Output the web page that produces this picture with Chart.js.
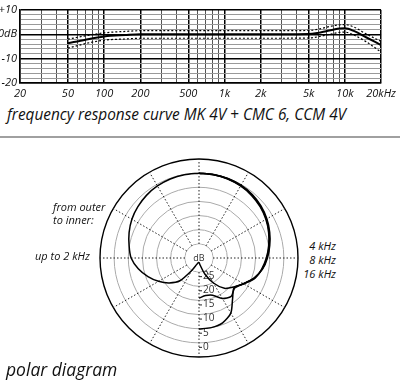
<!DOCTYPE html>
<html>
<head>
<meta charset="utf-8">
<script src="https://cdn.jsdelivr.net/npm/chart.js@4/dist/chart.umd.min.js"></script>
<style>
  body { margin: 0; width: 400px; height: 386px; position: relative; background: #fff; overflow: hidden; font-family: "Open Sans", sans-serif; color: #111; }
  canvas { position: absolute; }
  .t { position: absolute; font-style: italic; white-space: nowrap; }
  .s { font-size: 11px; line-height: 11px; }
</style>
</head>
<body>
<canvas id="freq" width="400" height="100" style="left:0;top:0"></canvas>
<div class="t" style="left:7px;top:106px;font-size:15.4px;line-height:18px">frequency response curve MK 4V + CMC 6, CCM 4V</div>
<div style="position:absolute;left:0;top:136px;width:400px;height:2px;background:#a0a0a0"></div>
<canvas id="polar" width="204" height="204" style="left:97px;top:156px"></canvas>
<div class="t s" style="left:53px;top:201px">from outer</div>
<div class="t s" style="left:53px;top:214px">to inner:</div>
<div class="t s" style="left:35px;top:250px">up to 2 kHz</div>
<div class="t s" style="right:64px;top:240px">4 kHz</div>
<div class="t s" style="right:64px;top:254px">8 kHz</div>
<div class="t s" style="right:64px;top:268px">16 kHz</div>
<div class="t" style="left:6px;top:359px;font-size:17.5px;line-height:20px">polar diagram</div>
<script>
// frequency response (Hz / dB)
const freqs = [50, 70, 100, 150, 200, 300, 500, 1000, 2000, 3000, 5000, 6000, 7000, 8000, 9000, 10000, 12000, 15000, 20000];
const mean  = [-3.7, -2.2, -0.9, -0.3, 0, 0, 0, 0, 0, 0, 0.1, 0.6, 1.3, 1.9, 2.4, 2.5, 1.3, -1.2, -4.4];
const upper = [-2.0, -0.6, 0.6, 1.2, 1.5, 1.5, 1.5, 1.5, 1.5, 1.5, 1.6, 2.1, 2.9, 3.5, 3.9, 4.0, 2.9, 0.2, -2.9];
const lower = [-5.7, -3.8, -2.4, -1.9, -1.6, -1.6, -1.6, -1.6, -1.6, -1.6, -1.5, -1.0, -0.3, 0.3, 0.8, 0.9, -0.4, -3.0, -7.3];

const freqTicks = [20, 30, 40, 50, 60, 70, 80, 90, 100, 200, 300, 400, 500, 600, 700, 800, 900,
  1000, 2000, 3000, 4000, 5000, 6000, 7000, 8000, 9000, 10000, 20000];
const freqLabels = { 20: "20", 50: "50", 100: "100", 200: "200", 500: "500", 1000: "1k",
  2000: "2k", 5000: "5k", 10000: "10k", 20000: "20kHz" };
const dbTicks = [-20, -18, -16, -14, -12, -10, -8, -6, -4, -2, 0, 2, 4, 6, 8, 10];
const dbLabels = { 10: "+10", 0: "0dB", "-10": "-10", "-20": "-20" };

// polar response, dB by angle from front (0..180 deg, 10 deg steps)
const polarAngles = [0, 10, 20, 30, 40, 50, 60, 70, 80, 90, 100, 110, 120, 130, 140, 150, 160, 170, 180];
const low2k = [0, -0.1, -0.3, -0.6, -1.1, -1.8, -2.6, -3.7, -4.9, -6.0, -8.2, -10.8, -13.5, -16.3, -19.5, -25, -27.5, -28.3, -28.5];
const f4k   = [0, -0.1, -0.3, -0.6, -1.1, -1.8, -2.7, -3.8, -5.0, -6.2, -7.5, -9.0, -11.8, -14, -16, -19.8, -24, -27.3, -28.5];
const f8k   = [0, -0.1, -0.2, -0.5, -0.9, -1.6, -2.5, -3.6, -4.8, -6.0, -7.3, -9.3, -11.8, -13.5, -12.3, -13.5, -16, -16.5, -15.8];
const f16k  = [0, 0, -0.1, -0.3, -0.7, -1.4, -2.3, -3.4, -4.6, -5.8, -7.2, -9.2, -11.8, -13.8, -11.5, -7.5, -5.6, -5.0, -4.9];
const ringValues = [0, -5, -10, -15, -20, -25];
const ringLabels = ["0", "5", "10", "15", "20", "25"];

const font = { family: "'Open Sans', sans-serif", style: "italic", size: 11 };
const isMajorF = (v) => freqLabels[v] !== undefined;
const isMajorDb = (v) => v % 10 === 0;

new Chart(document.getElementById("freq"), {
  type: "line",
  data: {
    datasets: [
      { data: freqs.map((f, i) => ({ x: f, y: upper[i] })), borderColor: "#000", borderWidth: 1.2, borderDash: [2, 2] },
      { data: freqs.map((f, i) => ({ x: f, y: lower[i] })), borderColor: "#000", borderWidth: 1.2, borderDash: [2, 2] },
      { data: freqs.map((f, i) => ({ x: f, y: mean[i] })), borderColor: "#000", borderWidth: 2 },
    ],
  },
  options: {
    responsive: false,
    animation: false,
    events: [],
    layout: { padding: { top: 10, right: 17, left: 0, bottom: 0 } },
    elements: { point: { radius: 0 }, line: { cubicInterpolationMode: "monotone", fill: false } },
    plugins: { legend: { display: false }, tooltip: { enabled: false } },
    scales: {
      x: {
        type: "logarithmic", min: 20, max: 20000,
        afterBuildTicks: (s) => { s.ticks = freqTicks.map((v) => ({ value: v })); },
        afterFit: (s) => { s.height = 17; },
        ticks: { autoSkip: false, maxRotation: 0, padding: 4, color: "#111", font,
          callback: (v) => freqLabels[v] || "" },
        grid: { drawTicks: false,
          color: (c) => (isMajorF(c.tick.value) ? "#000" : "#555"),
          lineWidth: (c) => (isMajorF(c.tick.value) ? 1.5 : 1) },
        border: { color: "#000", width: 1.5 },
      },
      y: {
        min: -20, max: 10,
        afterBuildTicks: (s) => { s.ticks = dbTicks.map((v) => ({ value: v })); },
        afterFit: (s) => { s.width = 20; },
        ticks: { autoSkip: false, padding: 3, color: "#111", font,
          callback: (v) => dbLabels[v] || "" },
        grid: { drawTicks: false,
          color: (c) => (isMajorDb(c.tick.value) ? "#000" : "#999"),
          lineWidth: (c) => (isMajorDb(c.tick.value) ? 1.5 : 1) },
        border: { color: "#000", width: 1.5 },
      },
    },
  },
});

// radar runs clockwise from the top over 0..350 deg; right half = high freqs, left half = up to 2 kHz
const radarLabels = [];
for (let a = 0; a < 360; a += 10) radarLabels.push(String(a));
const rightHalf = (arr) => radarLabels.map((a) => (+a <= 180 ? arr[polarAngles.indexOf(+a)] : null));
const leftHalf = (arr) => radarLabels.map((a) => (+a >= 180 || +a === 0 ? arr[polarAngles.indexOf(+a === 0 ? 0 : 360 - +a)] : null));

const polarDeco = {
  id: "polarDeco",
  beforeDatasetsDraw(chart) {
    const r = chart.scales.r;
    const ctx = chart.ctx;
    const cx = r.xCenter, cy = r.yCenter;
    const rin = r.getDistanceFromCenterForValue(-25);
    ctx.save();
    ctx.fillStyle = "#fff";
    ctx.beginPath();
    ctx.arc(cx, cy, rin - 0.6, 0, Math.PI * 2);
    ctx.fill();
    ctx.fillStyle = "#333";
    ctx.font = "9px 'Open Sans', sans-serif";
    ctx.textAlign = "center";
    ctx.textBaseline = "middle";
    ctx.fillText("dB", cx, cy);
    ctx.textAlign = "left";
    ctx.font = "10px 'Open Sans', sans-serif";
    ctx.strokeStyle = "#222";
    ctx.lineWidth = 1;
    ringValues.forEach((v, i) => {
      const y = cy + r.getDistanceFromCenterForValue(v) + 4;
      ctx.beginPath();
      ctx.moveTo(cx, y + 0.5);
      ctx.lineTo(cx + 3, y + 0.5);
      ctx.stroke();
      ctx.fillText(ringLabels[i], cx + 4, y);
    });
    ctx.restore();
  },
};

const curve = (data) => ({ data, borderColor: "#000", borderWidth: 1.5, fill: false, spanGaps: false });

new Chart(document.getElementById("polar"), {
  type: "radar",
  data: {
    labels: radarLabels,
    datasets: [curve(leftHalf(low2k)), curve(rightHalf(f4k)), curve(rightHalf(f8k)), curve(rightHalf(f16k))],
  },
  plugins: [polarDeco],
  options: {
    responsive: false,
    animation: false,
    events: [],
    layout: { padding: 3 },
    elements: { point: { radius: 0 }, line: { tension: 0.25 } },
    plugins: { legend: { display: false }, tooltip: { enabled: false } },
    scales: {
      r: {
        min: -30, max: 5, startAngle: 0,
        ticks: { stepSize: 5, display: false },
        pointLabels: { display: false },
        grid: { circular: true,
          color: (c) => (c.index === 7 ? "#000" : "#aaa"),
          lineWidth: (c) => (c.index === 7 ? 1.4 : 1) },
        angleLines: { color: "#222", borderDash: [1.5, 2],
          lineWidth: (c) => (c.index % 3 === 0 ? 1 : 0) },
      },
    },
  },
});
</script>
</body>
</html>
